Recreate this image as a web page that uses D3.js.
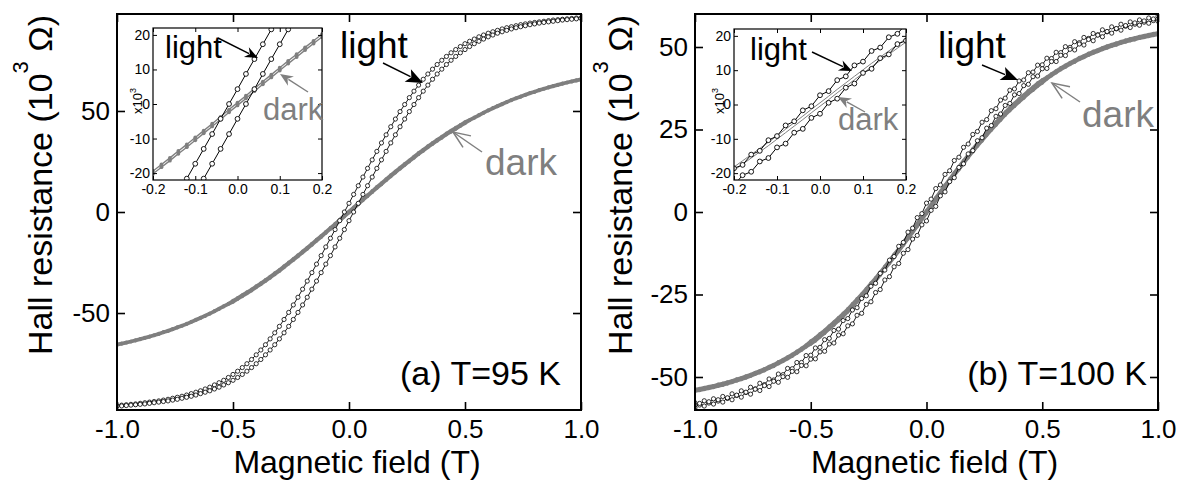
<!DOCTYPE html>
<html>
<head>
<meta charset="utf-8">
<script src="https://cdn.jsdelivr.net/npm/d3@7"></script>
<style>
  body { margin: 0; background: #fff; }
  svg { display: block; }
  text { font-family: "Liberation Sans", Arial, Helvetica, sans-serif; }
</style>
</head>
<body>
<svg id="chart" width="1179" height="483"></svg>
<script>
// magnetic field sweep (T), one reading every 0.02 T
const FIELD = [-1,-0.98,-0.96,-0.94,-0.92,-0.9,-0.88,-0.86,-0.84,-0.82,-0.8,-0.78,-0.76,-0.74,-0.72,-0.7,-0.68,-0.66,-0.64,-0.62,-0.6,-0.58,-0.56,-0.54,-0.52,-0.5,-0.48,-0.46,-0.44,-0.42,-0.4,-0.38,-0.36,-0.34,-0.32,-0.3,-0.28,-0.26,-0.24,-0.22,-0.2,-0.18,-0.16,-0.14,-0.12,-0.1,-0.08,-0.06,-0.04,-0.02,0,0.02,0.04,0.06,0.08,0.1,0.12,0.14,0.16,0.18,0.2,0.22,0.24,0.26,0.28,0.3,0.32,0.34,0.36,0.38,0.4,0.42,0.44,0.46,0.48,0.5,0.52,0.54,0.56,0.58,0.6,0.62,0.64,0.66,0.68,0.7,0.72,0.74,0.76,0.78,0.8,0.82,0.84,0.86,0.88,0.9,0.92,0.94,0.96,0.98,1];

// (a) T = 95 K, Hall resistance in 10^3 ohm
const LIGHT95_1 = [-95.8,-95.6,-95.4,-95.2,-95.0,-94.7,-94.4,-94.1,-93.8,-93.5,-93.1,-92.7,-92.2,-91.7,-91.2,-90.6,-89.9,-89.2,-88.5,-87.6,-86.7,-85.6,-84.5,-83.3,-81.9,-80.4,-78.8,-77.0,-75.1,-73.0,-70.7,-68.3,-65.7,-62.8,-59.8,-56.6,-53.2,-49.7,-46.0,-42.2,-38.2,-34.2,-30.0,-25.8,-21.6,-17.3,-13.0,-8.7,-4.3,0.0,4.3,8.7,13.0,17.3,21.6,25.8,30.0,34.2,38.2,42.2,46.0,49.7,53.2,56.6,59.8,62.8,65.7,68.3,70.7,73.0,75.1,77.0,78.8,80.4,81.9,83.3,84.5,85.6,86.7,87.6,88.5,89.2,89.9,90.6,91.2,91.7,92.2,92.7,93.1,93.5,93.8,94.1,94.4,94.7,95.0,95.2,95.4,95.6,95.8,96.0,96.1];
const LIGHT95_2 = [-96.1,-96.0,-95.8,-95.6,-95.4,-95.2,-95.0,-94.7,-94.4,-94.1,-93.8,-93.5,-93.1,-92.7,-92.2,-91.7,-91.2,-90.6,-89.9,-89.2,-88.5,-87.6,-86.7,-85.6,-84.5,-83.3,-81.9,-80.4,-78.8,-77.0,-75.1,-73.0,-70.7,-68.3,-65.7,-62.8,-59.8,-56.6,-53.2,-49.7,-46.0,-42.2,-38.2,-34.2,-30.0,-25.8,-21.6,-17.3,-13.0,-8.7,-4.3,0.0,4.3,8.7,13.0,17.3,21.6,25.8,30.0,34.2,38.2,42.2,46.0,49.7,53.2,56.6,59.8,62.8,65.7,68.3,70.7,73.0,75.1,77.0,78.8,80.4,81.9,83.3,84.5,85.6,86.7,87.6,88.5,89.2,89.9,90.6,91.2,91.7,92.2,92.7,93.1,93.5,93.8,94.1,94.4,94.7,95.0,95.2,95.4,95.6,95.8];
const DARK95_1 = [-65.4,-64.9,-64.4,-63.9,-63.3,-62.7,-62.1,-61.5,-60.8,-60.1,-59.3,-58.6,-57.8,-56.9,-56.1,-55.2,-54.2,-53.2,-52.2,-51.2,-50.1,-48.9,-47.7,-46.5,-45.3,-43.8,-42.4,-41.0,-39.6,-38.2,-36.6,-35.1,-33.5,-31.9,-30.2,-28.5,-26.7,-24.9,-23.1,-21.3,-19.4,-17.5,-15.6,-13.6,-11.7,-9.7,-7.7,-5.7,-3.7,-1.6,0.4,2.4,4.5,6.5,8.5,10.5,12.5,14.4,16.4,18.3,20.2,22.1,23.9,25.7,27.5,29.3,31.0,32.7,34.3,35.9,37.4,39.0,40.4,41.8,43.2,44.6,45.7,46.9,48.1,49.3,50.5,51.6,52.6,53.6,54.6,55.6,56.5,57.3,58.2,59.0,59.7,60.5,61.2,61.9,62.5,63.1,63.7,64.3,64.8,65.3,65.8];
const DARK95_2 = [-65.8,-65.3,-64.8,-64.3,-63.7,-63.1,-62.5,-61.9,-61.2,-60.5,-59.7,-59.0,-58.2,-57.3,-56.5,-55.6,-54.6,-53.6,-52.6,-51.6,-50.5,-49.3,-48.1,-46.9,-45.7,-44.6,-43.2,-41.8,-40.4,-39.0,-37.4,-35.9,-34.3,-32.7,-31.0,-29.3,-27.5,-25.7,-23.9,-22.1,-20.2,-18.3,-16.4,-14.4,-12.5,-10.5,-8.5,-6.5,-4.5,-2.4,-0.4,1.6,3.7,5.7,7.7,9.7,11.7,13.6,15.6,17.5,19.4,21.3,23.1,24.9,26.7,28.5,30.2,31.9,33.5,35.1,36.6,38.2,39.6,41.0,42.4,43.8,45.3,46.5,47.7,48.9,50.1,51.2,52.2,53.2,54.2,55.2,56.1,56.9,57.8,58.6,59.3,60.1,60.8,61.5,62.1,62.7,63.3,63.9,64.4,64.9,65.4];

// (b) T = 100 K
const LIGHT100_1 = [-57.8,-58.5,-57.2,-57.9,-56.6,-57.3,-55.9,-56.5,-55.1,-55.6,-54.2,-54.7,-53.1,-53.6,-51.9,-52.3,-50.6,-50.9,-49.1,-49.3,-47.4,-47.5,-45.6,-45.6,-43.5,-43.4,-41.2,-41.0,-38.7,-38.3,-35.9,-35.5,-32.9,-32.3,-29.7,-29.0,-26.2,-25.4,-22.5,-21.6,-18.6,-17.6,-14.6,-13.5,-10.4,-9.2,-6.1,-4.9,-1.7,-0.5,2.7,3.9,7.1,8.2,11.4,12.5,15.6,16.6,19.6,20.6,23.5,24.4,27.2,28.0,30.7,31.3,33.9,34.5,36.9,37.3,39.7,40.0,42.2,42.4,44.5,44.6,46.6,46.5,48.4,48.3,50.1,49.9,51.6,51.3,52.9,52.6,54.1,53.7,55.2,54.6,56.1,55.5,56.9,56.3,57.6,56.9,58.2,57.5,58.8,58.0,59.3];
const LIGHT100_2 = [-59.3,-58.0,-58.8,-57.5,-58.2,-56.9,-57.6,-56.3,-56.9,-55.5,-56.1,-54.6,-55.2,-53.7,-54.1,-52.6,-52.9,-51.3,-51.6,-49.9,-50.1,-48.3,-48.4,-46.5,-46.6,-44.6,-44.5,-42.4,-42.2,-40.0,-39.7,-37.3,-36.9,-34.5,-33.9,-31.3,-30.7,-28.0,-27.2,-24.4,-23.5,-20.6,-19.6,-16.6,-15.6,-12.5,-11.4,-8.2,-7.1,-3.9,-2.7,0.5,1.7,4.9,6.1,9.2,10.4,13.5,14.6,17.6,18.6,21.6,22.5,25.4,26.2,29.0,29.7,32.3,32.9,35.5,35.9,38.3,38.7,41.0,41.2,43.4,43.5,45.6,45.6,47.5,47.4,49.3,49.1,50.9,50.6,52.3,51.9,53.6,53.1,54.7,54.2,55.6,55.1,56.5,55.9,57.3,56.6,57.9,57.2,58.5,57.8];
const DARK100_1 = [-53.7,-53.5,-53.2,-52.9,-52.6,-52.2,-51.9,-51.5,-51.1,-50.6,-50.2,-49.7,-49.2,-48.6,-48.1,-47.5,-46.8,-46.2,-45.4,-44.7,-43.9,-43.1,-42.2,-41.3,-40.3,-39.1,-38.1,-36.9,-35.8,-34.5,-33.3,-32.0,-30.7,-29.3,-27.8,-26.3,-24.8,-23.2,-21.5,-19.9,-18.2,-16.4,-14.6,-12.8,-11.0,-9.1,-7.2,-5.3,-3.4,-1.4,0.5,2.4,4.4,6.3,8.2,10.1,12.0,13.8,15.6,17.4,19.2,20.9,22.5,24.2,25.8,27.3,28.8,30.3,31.7,33.0,34.3,35.5,36.8,37.9,39.1,40.1,40.9,41.9,42.8,43.7,44.5,45.3,46.0,46.8,47.4,48.1,48.7,49.2,49.8,50.3,50.8,51.2,51.7,52.1,52.5,52.8,53.2,53.5,53.8,54.1,54.3];
const DARK100_2 = [-54.3,-54.1,-53.8,-53.5,-53.2,-52.8,-52.5,-52.1,-51.7,-51.2,-50.8,-50.3,-49.8,-49.2,-48.7,-48.1,-47.4,-46.8,-46.0,-45.3,-44.5,-43.7,-42.8,-41.9,-40.9,-40.1,-39.1,-37.9,-36.8,-35.5,-34.3,-33.0,-31.7,-30.3,-28.8,-27.3,-25.8,-24.2,-22.5,-20.9,-19.2,-17.4,-15.6,-13.8,-12.0,-10.1,-8.2,-6.3,-4.4,-2.4,-0.5,1.4,3.4,5.3,7.2,9.1,11.0,12.8,14.6,16.4,18.2,19.9,21.5,23.2,24.8,26.3,27.8,29.3,30.7,32.0,33.3,34.5,35.8,36.9,38.1,39.1,40.3,41.3,42.2,43.1,43.9,44.7,45.4,46.2,46.8,47.5,48.1,48.6,49.2,49.7,50.2,50.6,51.1,51.5,51.9,52.2,52.6,52.9,53.2,53.5,53.7];

const X_TICKS = [-1, -0.5, 0, 0.5, 1];
const INSET_X_TICKS = [-0.2, -0.1, 0, 0.1, 0.2];
const INSET_Y_TICKS = [-20, -10, 0, 10, 20];

const GRAY = "#7f7f7f";
const svg = d3.select("#chart");

const panels = [
  {
    id: "a", left: 117, right: 581, top: 14, bottom: 410,
    yDomain: [-98, 98], yTicks: [-50, 0, 50],
    light: [LIGHT95_1, LIGHT95_2], dark: [DARK95_1, DARK95_2],
    caption: "(a) T=95 K", captionX: 561, titleX: 52,
    inset: { left: 153, right: 322, top: 28, bottom: 180, darkDots: true, unitX: 142 },
    notes: [
      { text: "light", x: 340, y: 58, size: 37, color: "#000", from: [383, 63], to: [423, 83], head: "filled" },
      { text: "dark", x: 485, y: 175, size: 37, color: GRAY, from: [482, 152], to: [453, 132], head: "open" },
      { text: "light", x: 165, y: 58, size: 31, color: "#000", from: [218, 38], to: [258, 58], head: "filled" },
      { text: "dark", x: 263, y: 120, size: 31, color: GRAY, from: [308, 92], to: [280, 74], head: "filled" }
    ]
  },
  {
    id: "b", left: 695, right: 1158, top: 14, bottom: 410,
    yDomain: [-60, 60], yTicks: [-50, -25, 0, 25, 50],
    light: [LIGHT100_1, LIGHT100_2], dark: [DARK100_1, DARK100_2],
    caption: "(b) T=100 K", captionX: 1147, titleX: 632,
    inset: { left: 734, right: 906, top: 29, bottom: 180, darkDots: false, unitX: 724 },
    notes: [
      { text: "light", x: 938, y: 58, size: 37, color: "#000", from: [982, 65], to: [1018, 80], head: "filled" },
      { text: "dark", x: 1082, y: 127, size: 37, color: GRAY, from: [1080, 102], to: [1052, 83], head: "open" },
      { text: "light", x: 750, y: 60, size: 31, color: "#000", from: [812, 52], to: [852, 71], head: "filled" },
      { text: "dark", x: 838, y: 130, size: 31, color: GRAY, from: [865, 112], to: [838, 97], head: "filled" }
    ]
  }
];

function pairs(ys) {
  return FIELD.map((b, i) => [b, ys[i]]).filter(d => d[1] !== undefined);
}

function styleAxis(sel, size, width) {
  sel.select(".domain").remove();
  sel.selectAll(".tick line").attr("stroke", "#000").attr("stroke-width", width);
  sel.selectAll(".tick text").attr("fill", "#000").style("font-size", size + "px")
    .style("font-family", '"Liberation Sans", Arial, sans-serif');
}

function arrow(g, from, to, color, head, big) {
  const [x1, y1] = from, [x2, y2] = to;
  const len = Math.hypot(x2 - x1, y2 - y1);
  const ux = (x2 - x1) / len, uy = (y2 - y1) / len;
  const nx = -uy, ny = ux;
  const L = big ? 17 : 13, W = big ? 7 : 5.5;
  const bx = x2 - ux * L, by = y2 - uy * L;
  if (head === "filled") {
    g.append("line").attr("x1", x1).attr("y1", y1).attr("x2", bx + ux * 3).attr("y2", by + uy * 3)
      .attr("stroke", color).attr("stroke-width", 1.4);
    g.append("path")
      .attr("d", `M${x2},${y2}L${bx + nx * W},${by + ny * W}L${bx + ux * 4},${by + uy * 4}L${bx - nx * W},${by - ny * W}Z`)
      .attr("fill", color);
  } else {
    g.append("line").attr("x1", x1).attr("y1", y1).attr("x2", x2).attr("y2", y2)
      .attr("stroke", color).attr("stroke-width", 1.5);
    g.append("path")
      .attr("d", `M${bx + nx * W},${by + ny * W}L${x2},${y2}L${bx - nx * W},${by - ny * W}`)
      .attr("fill", "none").attr("stroke", color).attr("stroke-width", 1.5);
  }
}

function drawSeries(g, x, y, p, opt) {
  const line = d3.line().x(d => x(d[0])).y(d => y(d[1]));
  p.dark.forEach(ys => {
    const pts = pairs(ys);
    g.append("path").attr("d", line(pts)).attr("fill", "none")
      .attr("stroke", GRAY).attr("stroke-width", opt.darkWidth);
    if (opt.darkDots) {
      g.append("g").selectAll("circle").data(pts).join("circle")
        .attr("cx", d => x(d[0])).attr("cy", d => y(d[1])).attr("r", opt.darkR).attr("fill", GRAY);
    }
  });
  p.light.forEach(ys => {
    const pts = pairs(ys);
    g.append("path").attr("d", line(pts)).attr("fill", "none")
      .attr("stroke", "#000").attr("stroke-width", opt.lightWidth);
    g.append("g").selectAll("circle").data(pts).join("circle")
      .attr("cx", d => x(d[0])).attr("cy", d => y(d[1])).attr("r", opt.lightR)
      .attr("fill", "#fff").attr("stroke", "#000").attr("stroke-width", opt.lightStroke);
  });
}

function drawPanel(p) {
  const x = d3.scaleLinear().domain([-1, 1]).range([p.left, p.right]);
  const y = d3.scaleLinear().domain(p.yDomain).range([p.bottom, p.top]);
  const g = svg.append("g");

  const clipId = "clip-" + p.id;
  svg.append("clipPath").attr("id", clipId).append("rect")
    .attr("x", p.left).attr("y", p.top).attr("width", p.right - p.left).attr("height", p.bottom - p.top);
  drawSeries(g.append("g").attr("clip-path", `url(#${clipId})`), x, y, p,
    { darkWidth: 3, darkDots: true, darkR: 1.7, lightWidth: 0.9, lightR: 2.1, lightStroke: 0.8 });

  // main axes, ticks pointing inwards on all four sides
  g.append("g").attr("transform", `translate(0,${p.bottom})`)
    .call(d3.axisBottom(x).tickValues(X_TICKS).tickSize(-8).tickPadding(10).tickFormat(d => d.toFixed(1)))
    .call(s => styleAxis(s, 26, 1.6));
  g.append("g").attr("transform", `translate(0,${p.top})`)
    .call(d3.axisTop(x).tickValues(X_TICKS).tickSize(-8).tickFormat(""))
    .call(s => styleAxis(s, 26, 1.6));
  g.append("g").attr("transform", `translate(${p.left},0)`)
    .call(d3.axisLeft(y).tickValues(p.yTicks).tickSize(-8).tickPadding(7).tickFormat(d => String(d)))
    .call(s => styleAxis(s, 26, 1.6));
  g.append("g").attr("transform", `translate(${p.right},0)`)
    .call(d3.axisRight(y).tickValues(p.yTicks).tickSize(-8).tickFormat(""))
    .call(s => styleAxis(s, 26, 1.6));
  g.append("rect").attr("x", p.left).attr("y", p.top)
    .attr("width", p.right - p.left).attr("height", p.bottom - p.top)
    .attr("fill", "none").attr("stroke", "#000").attr("stroke-width", 2);

  // axis titles
  g.append("text").attr("x", (p.left + p.right) / 2 + 8).attr("y", 473)
    .attr("text-anchor", "middle").style("font-size", "32px").text("Magnetic field (T)");
  const yt = g.append("text").attr("transform", `translate(${p.titleX},185) rotate(-90)`)
    .attr("text-anchor", "middle").style("font-size", "34px");
  yt.append("tspan").text("Hall resistance (10");
  yt.append("tspan").attr("dy", -24).style("font-size", "22px").text("3");
  yt.append("tspan").attr("dy", 24).text(" \u03A9)");

  g.append("text").attr("x", p.captionX).attr("y", 385).attr("text-anchor", "end")
    .style("font-size", "34px").text(p.caption);

  // inset: zoom around zero field
  const ins = p.inset;
  const xi = d3.scaleLinear().domain([-0.2, 0.2]).range([ins.left, ins.right]);
  const yi = d3.scaleLinear().domain([-22, 22]).range([ins.bottom, ins.top]);
  const gi = g.append("g");
  gi.append("rect").attr("x", ins.left).attr("y", ins.top)
    .attr("width", ins.right - ins.left).attr("height", ins.bottom - ins.top).attr("fill", "#fff");
  const iclip = "iclip-" + p.id;
  svg.append("clipPath").attr("id", iclip).append("rect")
    .attr("x", ins.left).attr("y", ins.top).attr("width", ins.right - ins.left).attr("height", ins.bottom - ins.top);
  drawSeries(gi.append("g").attr("clip-path", `url(#${iclip})`), xi, yi, p,
    { darkWidth: ins.darkDots ? 1.4 : 1, darkDots: ins.darkDots, darkR: 1.9, lightWidth: 1, lightR: 2.4, lightStroke: 0.9 });

  gi.append("g").attr("transform", `translate(0,${ins.bottom})`)
    .call(d3.axisBottom(xi).tickValues(INSET_X_TICKS).tickSize(-4).tickPadding(4).tickFormat(d => d.toFixed(1)))
    .call(s => styleAxis(s, 14, 1));
  gi.append("g").attr("transform", `translate(0,${ins.top})`)
    .call(d3.axisTop(xi).tickValues(INSET_X_TICKS).tickSize(-4).tickFormat(""))
    .call(s => styleAxis(s, 14, 1));
  gi.append("g").attr("transform", `translate(${ins.left},0)`)
    .call(d3.axisLeft(yi).tickValues(INSET_Y_TICKS).tickSize(-4).tickPadding(3).tickFormat(d => String(d)))
    .call(s => styleAxis(s, 14, 1));
  gi.append("g").attr("transform", `translate(${ins.right},0)`)
    .call(d3.axisRight(yi).tickValues(INSET_Y_TICKS).tickSize(-4).tickFormat(""))
    .call(s => styleAxis(s, 14, 1));
  gi.append("rect").attr("x", ins.left).attr("y", ins.top)
    .attr("width", ins.right - ins.left).attr("height", ins.bottom - ins.top)
    .attr("fill", "none").attr("stroke", "#000").attr("stroke-width", 1.2);
  const ut = gi.append("text").attr("transform", `translate(${ins.unitX},101) rotate(-90)`)
    .attr("text-anchor", "middle").style("font-size", "13px");
  ut.append("tspan").text("x10");
  ut.append("tspan").attr("dy", -6).style("font-size", "9px").text("3");

  // labels with arrows
  p.notes.forEach(n => {
    g.append("text").attr("x", n.x).attr("y", n.y).attr("fill", n.color)
      .style("font-size", n.size + "px").text(n.text);
    arrow(g, n.from, n.to, n.color, n.head, n.size > 34);
  });
}

panels.forEach(drawPanel);
</script>
</body>
</html>
